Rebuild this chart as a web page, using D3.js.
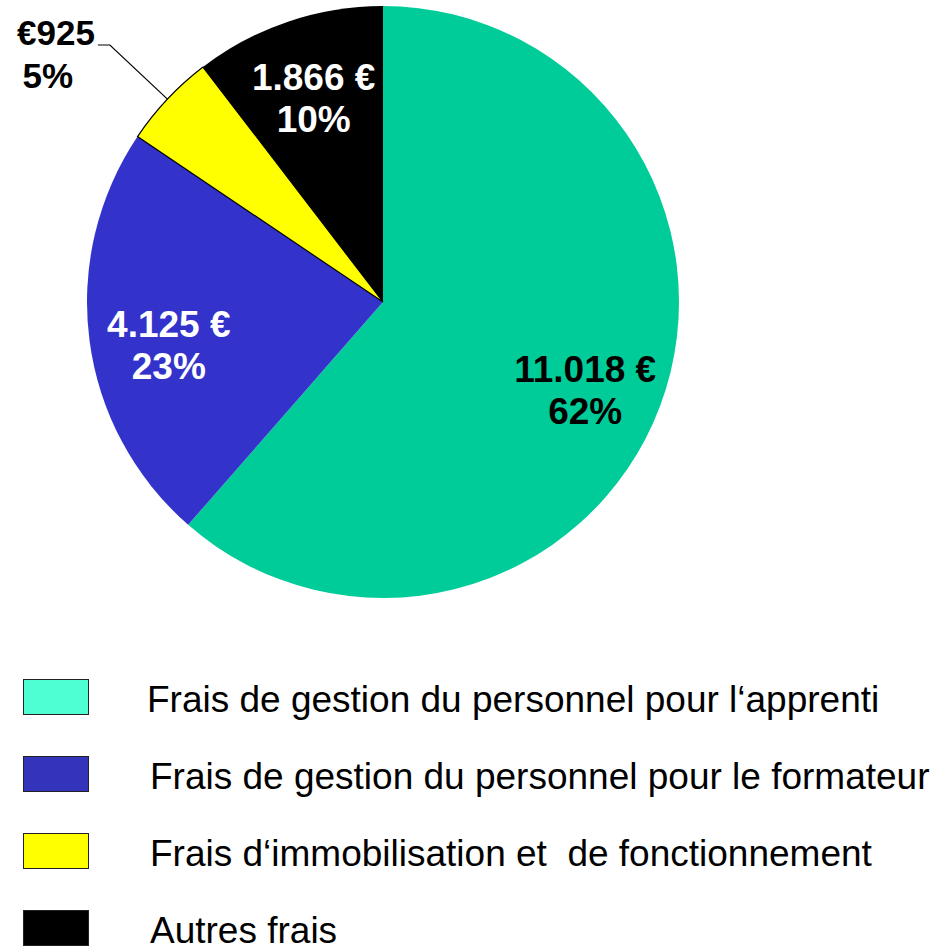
<!DOCTYPE html>
<html>
<head>
<meta charset="utf-8">
<script src="https://cdn.jsdelivr.net/npm/d3@7"></script>
<style>
  body { margin: 0; background: #fff; }
  svg { display: block; font-family: Arial, "Liberation Sans", sans-serif; }
</style>
</head>
<body>
<div id="chart"></div>
<script>
// Data
const categories = [
  "Frais de gestion du personnel pour l\u2018apprenti",
  "Frais de gestion du personnel pour le formateur",
  "Frais d\u2018immobilisation et  de fonctionnement",
  "Autres frais"
];
const values = [11018, 4125, 925, 1866];
const valueLabels = ["11.018 \u20ac", "4.125 \u20ac", "\u20ac925", "1.866 \u20ac"];
const percentLabels = ["62%", "23%", "5%", "10%"];

// Colours of the slices and of the legend swatches
const sliceColors = ["#00cc99", "#3333cc", "#ffff00", "#000000"];
const swatchColors = ["#4dffd2", "#3333bb", "#ffff00", "#000000"];
const labelColors = ["#000", "#fff", "#000", "#fff"];
// small vertical nudge of the inside labels
const labelNudge = [12, 15, 0, 1];

const width = 936, height = 947;
const cx = 383, cy = 302, radius = 296;

const svg = d3.select('#chart').append('svg')
    .attr('width', width)
    .attr('height', height);

const data = categories.map((c, i) => ({ name: c, value: values[i], i: i }));

const pie = d3.pie()
    .sort(null)
    .value(d => d.value);

const arc = d3.arc().innerRadius(0).outerRadius(radius);
const labelArc = d3.arc().innerRadius(216).outerRadius(216);

const g = svg.append('g').attr('transform', `translate(${cx},${cy})`);
const arcs = pie(data);

// Slices (only the yellow one has an outline in the original)
g.selectAll('path')
    .data(arcs)
    .enter()
    .append('path')
    .attr('d', arc)
    .attr('fill', d => sliceColors[d.data.i])
    .attr('stroke', d => d.data.i === 2 ? '#000' : 'none')
    .attr('stroke-width', 1.2);

// Labels inside the slices
arcs.filter(d => d.data.i !== 2).forEach(d => {
  const [x, y0] = labelArc.centroid(d);
  const y = y0 + labelNudge[d.data.i];
  const t = g.append('text')
      .attr('text-anchor', 'middle')
      .attr('font-weight', 'bold')
      .attr('font-size', 37)
      .attr('fill', labelColors[d.data.i]);
  t.append('tspan').attr('x', x).attr('y', y - 8).text(valueLabels[d.data.i]);
  t.append('tspan').attr('x', x).attr('y', y + 34).text(percentLabels[d.data.i]);
});

// Outside label with leader line for the small slice
const small = arcs[2];
const mid = (small.startAngle + small.endAngle) / 2;
const p0 = [Math.sin(mid) * radius, -Math.cos(mid) * radius];
const p1 = [Math.sin(mid) * 375, -Math.cos(mid) * 375];
const p2 = [p1[0] - 12, p1[1]];
g.append('polyline')
    .attr('points', [p0, p1, p2].map(p => p.join(',')).join(' '))
    .attr('fill', 'none')
    .attr('stroke', '#000')
    .attr('stroke-width', 1.2);
const st = g.append('text')
    .attr('font-weight', 'bold')
    .attr('font-size', 35)
    .attr('fill', '#000');
st.append('tspan')
    .attr('text-anchor', 'end')
    .attr('x', p2[0] - 3).attr('y', p2[1] + 0).text(valueLabels[2]);
st.append('tspan')
    .attr('text-anchor', 'middle')
    .attr('x', p2[0] - 50).attr('y', p2[1] + 43).text(percentLabels[2]);

// Legend
const legendY = d3.scalePoint()
    .domain(d3.range(categories.length))
    .range([697, 928]);
const textX = [147, 150, 150, 150];

const legend = svg.append('g');
const item = legend.selectAll('g')
    .data(data)
    .enter()
    .append('g')
    .attr('transform', d => `translate(0,${legendY(d.i)})`);

item.append('rect')
    .attr('x', 23.5)
    .attr('y', -17.5)
    .attr('width', 65)
    .attr('height', 35)
    .attr('fill', d => swatchColors[d.i])
    .attr('stroke', '#222')
    .attr('stroke-width', 1);

item.append('text')
    .attr('x', d => textX[d.i])
    .attr('y', 15)
    .attr('font-size', 37)
    .attr('fill', '#000')
    .style('white-space', 'pre')
    .text(d => d.name);
</script>
</body>
</html>
